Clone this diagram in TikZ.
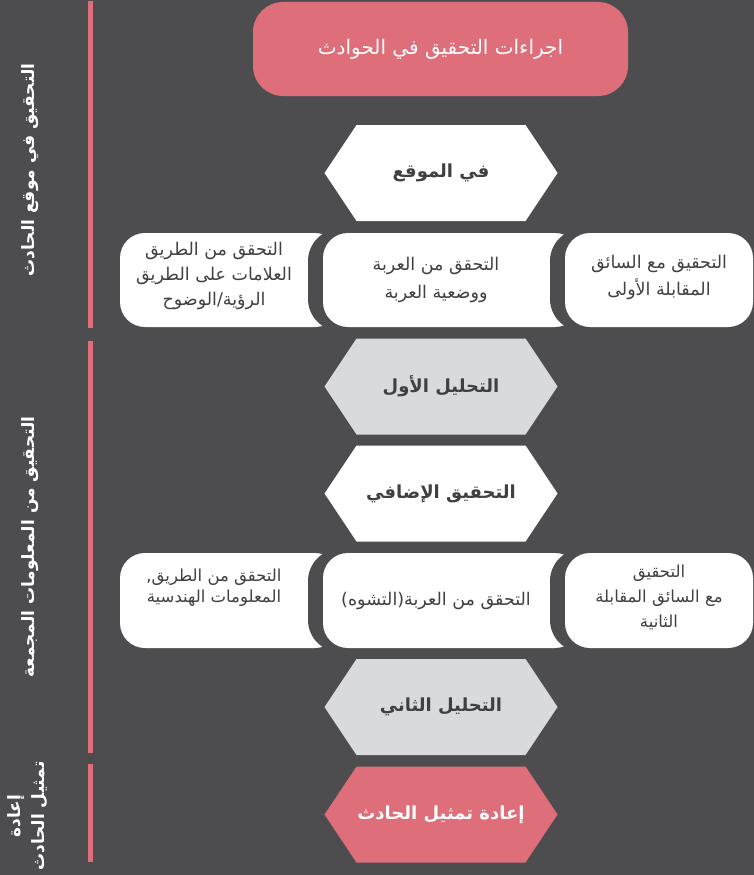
\documentclass[tikz,border=0pt]{standalone}
\usepackage{fontspec}
\newfontfamily\arabicfont[Script=Arabic]{DejaVu Sans}
\TeXXeTstate=1
\newcommand{\artxt}[1]{\beginR #1\endR}
\definecolor{bgc}{HTML}{4D4D4F}
\definecolor{pinkc}{HTML}{DE6E79}
\definecolor{hexgray}{HTML}{D9DADC}
\definecolor{txtc}{HTML}{404040}
\tikzset{
  boxtext/.style={text=txtc, align=center, inner sep=0pt, font=\arabicfont\fontsize{17.5}{25}\selectfont},
  hextext/.style={text=txtc, align=center, inner sep=0pt, font=\arabicfont\bfseries\fontsize{18}{22}\selectfont},
  sidetext/.style={text=white, align=center, inner sep=0pt, rotate=90, font=\arabicfont\bfseries\fontsize{17}{24}\selectfont},
  sidebar/.style={fill=pinkc},
  whitebox/.style={fill=white, rounded corners=25pt},
  gapbox/.style={fill=bgc, rounded corners=32pt},
}
\newcommand{\hexshape}[3]{%
  \fill[#3] (#1-116.5,#2) -- (#1-84.5,#2-48) -- (#1+84.5,#2-48) -- (#1+116.5,#2) -- (#1+84.5,#2+48) -- (#1-84.5,#2+48) -- cycle;}
\begin{document}
\begin{tikzpicture}[x=1pt,y=-1pt]
\fill[bgc] (0,0) rectangle (754,875);
\useasboundingbox (0,0) rectangle (754,875);

% side bars
\fill[sidebar] (88,1) rectangle (93,328);
\fill[sidebar] (88,341) rectangle (93,753);
\fill[sidebar] (88,764) rectangle (93,862);

\node[sidetext] (s1) at (30,170) {\artxt{التحقيق في موقع الحادث}};
\node[sidetext] (s2) at (30,547) {\artxt{التحقيق من المعلومات المجمعة}};
\node[sidetext] (s3) at (28,816) {\artxt{إعادة}\\\artxt{تمثيل الحادث}};

% title
\node[fill=pinkc, rounded corners=30pt, minimum width=375pt, minimum height=94pt,
      text=white, font=\arabicfont\fontsize{20}{22}\selectfont] (title) at (440.5,49) {\artxt{اجراءات التحقيق في الحوادث}};

% hexagons
\hexshape{441}{173}{white}
\node[hextext] (h1) at (441,173) {\artxt{في الموقع}};
\hexshape{441}{386.5}{hexgray}
\node[hextext] (h2) at (441,386.5) {\artxt{التحليل الأول}};
\hexshape{441}{493.5}{white}
\node[hextext] (h3) at (441,493.5) {\artxt{التحقيق الإضافي}};
\hexshape{441}{707}{hexgray}
\node[hextext] (h4) at (441,707) {\artxt{التحليل الثاني}};
\hexshape{441}{814.5}{pinkc}
\node[hextext, text=white] (h5) at (441,814.5) {\artxt{إعادة تمثيل الحادث}};

% row 1 boxes
\fill[whitebox] (120,233) rectangle (340,327);
\fill[gapbox] (308,229) rectangle (580,331);
\fill[whitebox] (323,233) rectangle (580,327);
\fill[gapbox] (550,229) rectangle (753,331);
\fill[whitebox] (565,233) rectangle (753,327);
\node[boxtext] (r1a) at (214,276) {\artxt{التحقق من الطريق}\\\artxt{العلامات على الطريق}\\\artxt{الرؤية/الوضوح}};
\node[boxtext, font=\arabicfont\fontsize{17.5}{28}\selectfont] (r1b) at (436,280) {\artxt{التحقق من العربة}\\\artxt{ووضعية العربة}};
\node[boxtext, font=\arabicfont\fontsize{17.5}{27}\selectfont] (r1c) at (659,277) {\artxt{التحقيق مع السائق}\\\artxt{المقابلة الأولى}};

% row 2 boxes
\fill[whitebox] (120,553) rectangle (340,648);
\fill[gapbox] (308,549) rectangle (580,652);
\fill[whitebox] (323,553) rectangle (580,648);
\fill[gapbox] (550,549) rectangle (753,652);
\fill[whitebox] (565,553) rectangle (753,648);
\node[boxtext, font=\arabicfont\fontsize{16.5}{21}\selectfont] (r2a) at (214,588) {\artxt{التحقق من الطريق,}\\\artxt{المعلومات الهندسية}};
\node[boxtext] (r2b) at (436,600.5) {\artxt{التحقق من العربة(التشوه)}};
\node[boxtext, font=\arabicfont\fontsize{16.5}{25}\selectfont] (r2c) at (659,597) {\artxt{التحقيق}\\\artxt{مع السائق المقابلة}\\\artxt{الثانية}};
\end{tikzpicture}
\end{document}
